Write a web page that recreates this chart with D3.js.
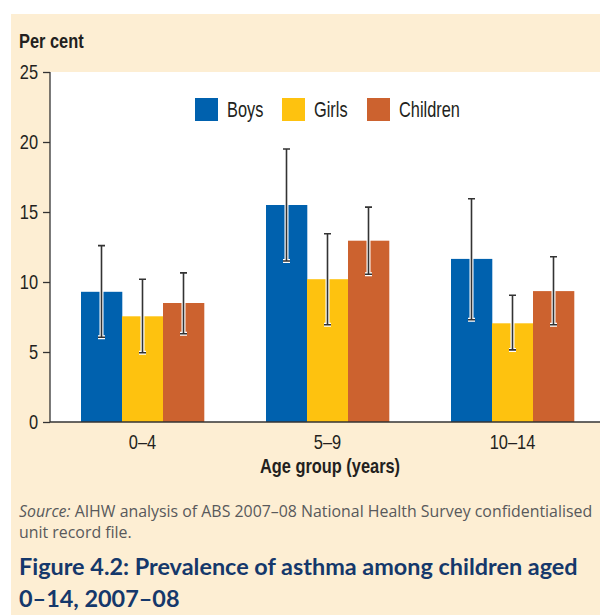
<!DOCTYPE html>
<html>
<head>
<meta charset="utf-8">
<script src="https://cdn.jsdelivr.net/npm/d3@7"></script>
<style>
  body { margin: 0; background: #fff; }
  svg { display: block; }
  .cond { font-family: "Liberation Sans", Arial, sans-serif; }
</style>
</head>
<body>
<svg width="600" height="615"></svg>
<script>
// data
const groups = ['0–4', '5–9', '10–14'];
const series = ['Boys', 'Girls', 'Children'];
const colors = ['#0061ae', '#fec20f', '#cc622f'];
const boys = [9.3, 15.5, 11.65];
const girls = [7.55, 10.2, 7.05];
const children = [8.5, 12.95, 9.35];
const boysLo = [6.05, 11.5, 7.3];
const boysHi = [12.6, 19.5, 15.95];
const girlsLo = [4.95, 6.95, 5.15];
const girlsHi = [10.2, 13.45, 9.05];
const childrenLo = [6.3, 10.55, 6.95];
const childrenHi = [10.65, 15.35, 11.8];
const yTicks = [0, 5, 10, 15, 20, 25];

const values = [boys, girls, children];
const lows = [boysLo, girlsLo, childrenLo];
const highs = [boysHi, girlsHi, childrenHi];

const rows = [];
groups.forEach((g, gi) => {
  series.forEach((s, si) => {
    rows.push({ group: g, key: s, value: values[si][gi], lo: lows[si][gi], hi: highs[si][gi], color: colors[si] });
  });
});

// squeeze a text horizontally, the original uses a condensed face
function condense(sel, f) {
  sel.each(function () {
    const w = this.getComputedTextLength();
    d3.select(this).attr('textLength', w * f).attr('lengthAdjust', 'spacingAndGlyphs');
  });
}

const svg = d3.select('svg');

// page background panel
svg.append('rect')
  .attr('x', 11).attr('y', 14).attr('width', 589).attr('height', 601)
  .attr('fill', '#fdeed3');

const plotL = 50, plotT = 72, plotR = 600, plotB = 422;

svg.append('rect')
  .attr('x', plotL).attr('y', plotT).attr('width', plotR - plotL).attr('height', plotB - plotT)
  .attr('fill', '#fff');

const x = d3.scaleBand().domain(groups).range([plotL, 605]).padding(0);
const xs = d3.scaleBand().domain(series)
  .range([x.bandwidth() / 2 - 61.5, x.bandwidth() / 2 + 61.5]);
const y = d3.scaleLinear().domain([0, 25]).range([plotB, plotT]);

// bars
svg.append('g')
  .selectAll('rect')
  .data(rows)
  .join('rect')
  .attr('x', d => x(d.group) + xs(d.key))
  .attr('y', d => y(d.value))
  .attr('width', xs.bandwidth() + 0.3)
  .attr('height', d => y(0) - y(d.value))
  .attr('fill', d => d.color);

// error bars: white halo then dark line
const eb = svg.append('g')
  .selectAll('g')
  .data(rows)
  .join('g')
  .attr('transform', d => `translate(${x(d.group) + xs(d.key) + xs.bandwidth() / 2},0)`);

const ebPath = d => `M-3.5,${y(d.hi)}H3.5M0,${y(d.hi)}V${y(d.lo)}M-3.5,${y(d.lo)}H3.5`;
eb.append('path')
  .attr('d', ebPath)
  .attr('fill', 'none')
  .attr('stroke', '#fff')
  .attr('stroke-width', 4);
eb.append('path')
  .attr('d', ebPath)
  .attr('fill', 'none')
  .attr('stroke', '#333')
  .attr('stroke-width', 1.6);

// y axis
const yAxis = svg.append('g')
  .attr('transform', `translate(${plotL},0)`)
  .call(d3.axisLeft(y).tickValues(yTicks).tickSize(7).tickPadding(5));
yAxis.select('.domain').attr('stroke', '#333').attr('stroke-width', 1.3)
  .attr('d', `M0,${plotT}V${plotB}`);
yAxis.selectAll('.tick line').attr('stroke', '#333').attr('stroke-width', 1.3);
yAxis.selectAll('text')
  .attr('class', 'cond')
  .attr('font-size', 21)
  .attr('fill', '#231f20')
  .call(condense, 0.78);

// x axis baseline
svg.append('line')
  .attr('x1', plotL).attr('x2', plotR)
  .attr('y1', plotB).attr('y2', plotB)
  .attr('stroke', '#333').attr('stroke-width', 1.3);

const xAxis = svg.append('g')
  .attr('transform', `translate(0,${plotB})`)
  .call(d3.axisBottom(x).tickSize(0).tickPadding(12));
xAxis.select('.domain').remove();
xAxis.selectAll('text')
  .attr('class', 'cond')
  .attr('font-size', 21)
  .attr('fill', '#231f20')
  .call(condense, 0.78);

// axis titles
svg.append('text')
  .attr('class', 'cond')
  .attr('x', 19).attr('y', 48)
  .attr('font-size', 21).attr('font-weight', 'bold')
  .attr('fill', '#231f20')
  .text('Per cent')
  .call(condense, 0.78);

svg.append('text')
  .attr('class', 'cond')
  .attr('x', 330).attr('y', 473)
  .attr('text-anchor', 'middle')
  .attr('font-size', 21).attr('font-weight', 'bold')
  .attr('fill', '#231f20')
  .text('Age group (years)')
  .call(condense, 0.78);

// legend
const legendX = [195, 282, 367];
const legend = svg.append('g')
  .selectAll('g')
  .data(series)
  .join('g')
  .attr('transform', (d, i) => `translate(${legendX[i]},98)`);
legend.append('rect')
  .attr('width', 23).attr('height', 23)
  .attr('fill', (d, i) => colors[i]);
legend.append('text')
  .attr('class', 'cond')
  .attr('x', 32).attr('y', 19)
  .attr('font-size', 21.5)
  .attr('fill', '#231f20')
  .text(d => d)
  .call(condense, 0.76);

// source note
const src = svg.append('text')
  .attr('x', 19).attr('y', 517)
  .attr('font-family', '"Open Sans", sans-serif')
  .attr('font-size', 15.9)
  .attr('fill', '#58595b');
src.append('tspan').attr('font-style', 'italic').text('Source:');
src.append('tspan').text(' AIHW analysis of ABS 2007–08 National Health Survey confidentialised');
svg.append('text')
  .attr('x', 19).attr('y', 538)
  .attr('font-family', '"Open Sans", sans-serif')
  .attr('font-size', 15.9)
  .attr('fill', '#58595b')
  .text('unit record file.');

// figure title, sized so the first line fills the panel width
const title = ['Figure 4.2: Prevalence of asthma among children aged', '0–14, 2007–08'];
const titleText = svg.append('g')
  .selectAll('text')
  .data(title)
  .join('text')
  .attr('x', 19)
  .attr('y', (d, i) => 575 + i * 32)
  .attr('font-family', 'Lato, sans-serif')
  .attr('font-size', 22)
  .attr('font-weight', 'bold')
  .attr('fill', '#15386b')
  .text(d => d);
const titleSize = Math.min(25, 22 * 559 / titleText.node().getComputedTextLength());
titleText.attr('font-size', titleSize);
</script>
</body>
</html>
